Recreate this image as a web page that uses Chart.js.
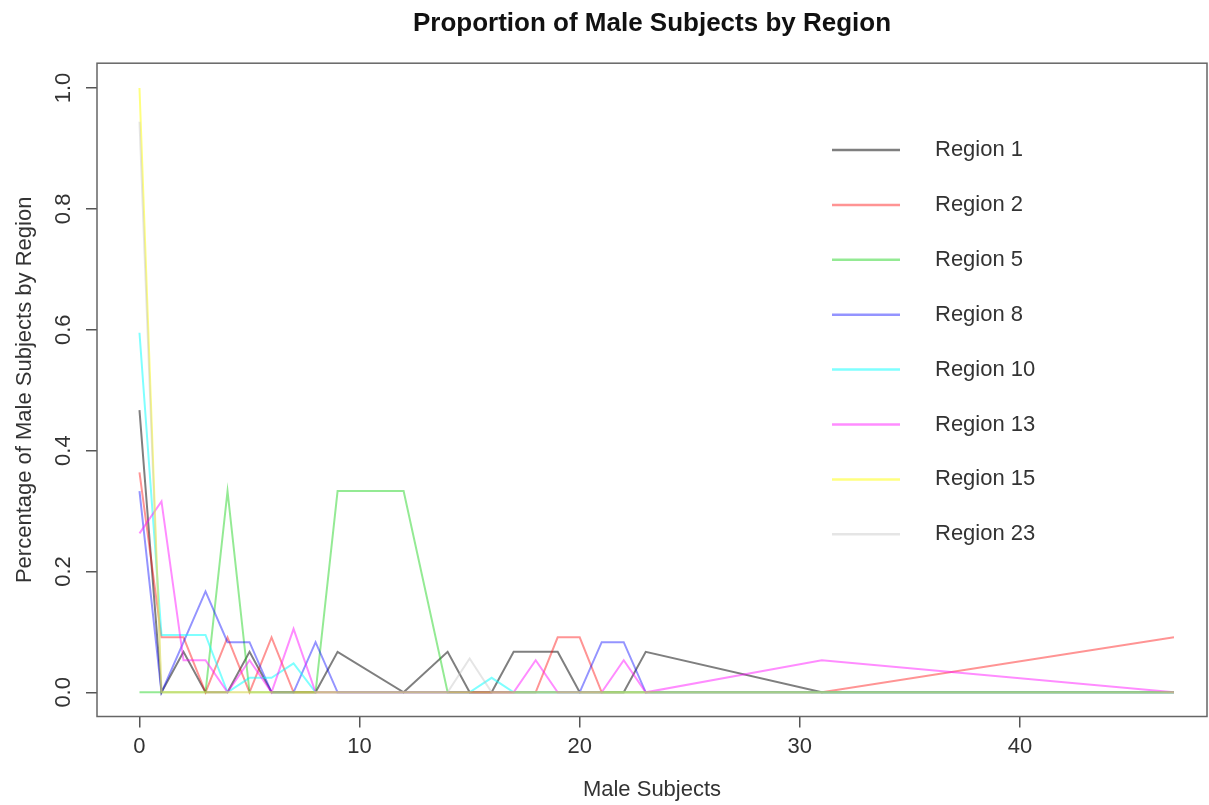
<!DOCTYPE html>
<html lang="en">
<head>
  <meta charset="UTF-8" />
  <title>Proportion of Male Subjects by Region</title>
  <script src="https://cdn.jsdelivr.net/npm/chart.js"></script>
  <style>
    html, body { margin: 0; padding: 0; background: #fff; }
    .chart-box { position: relative; width: 1209px; height: 805px; }
  </style>
</head>
<body>
  <div class="chart-box">
    <canvas id="regionChart"></canvas>
  </div>

  <script>
    // male subject counts present in the data
    const maleCounts = [0, 1, 2, 3, 4, 5, 6, 7, 8, 9, 12, 14, 15, 16, 17, 18, 19, 20, 21, 22, 23, 31, 47];

    const region1  = [0.467, 0, 0.067, 0, 0, 0.067, 0, 0, 0, 0.067, 0, 0.067, 0, 0, 0.067, 0.067, 0.067, 0, 0, 0, 0.067, 0, 0];
    const region2  = [0.364, 0.091, 0.091, 0, 0.091, 0, 0.091, 0, 0, 0, 0, 0, 0, 0, 0, 0, 0.091, 0.091, 0, 0, 0, 0, 0.091];
    const region5  = [0, 0, 0, 0, 0.333, 0, 0, 0, 0, 0.333, 0.333, 0, 0, 0, 0, 0, 0, 0, 0, 0, 0, 0, 0];
    const region8  = [0.333, 0, 0.083, 0.167, 0.083, 0.083, 0, 0, 0.083, 0, 0, 0, 0, 0, 0, 0, 0, 0, 0.083, 0.083, 0, 0, 0];
    const region10 = [0.595, 0.095, 0.095, 0.095, 0, 0.024, 0.024, 0.048, 0, 0, 0, 0, 0, 0.024, 0, 0, 0, 0, 0, 0, 0, 0, 0];
    const region13 = [0.263, 0.316, 0.053, 0.053, 0, 0.053, 0, 0.105, 0, 0, 0, 0, 0, 0, 0, 0.053, 0, 0, 0, 0.053, 0, 0.053, 0];
    const region15 = [1, 0, 0, 0, 0, 0, 0, 0, 0, 0, 0, 0, 0, 0, 0, 0, 0, 0, 0, 0, 0, 0, 0];
    const region23 = [0.944, 0, 0, 0, 0, 0, 0, 0, 0, 0, 0, 0, 0.056, 0, 0, 0, 0, 0, 0, 0, 0, 0, 0];

    const regionNames = ["Region 1", "Region 2", "Region 5", "Region 8", "Region 10", "Region 13", "Region 15", "Region 23"];
    const regionSeries = [region1, region2, region5, region8, region10, region13, region15, region23];
    const regionColors = [
      "rgba(0,0,0,0.5)", "rgba(255,0,0,0.42)", "rgba(0,205,0,0.42)", "rgba(0,0,255,0.42)",
      "rgba(0,255,255,0.5)", "rgba(255,0,255,0.45)", "rgba(255,255,0,0.5)", "rgba(190,190,190,0.4)"
    ];

    const xTicks = [0, 10, 20, 30, 40];
    const yTicks = [0, 0.2, 0.4, 0.6, 0.8, 1.0];

    const FONT = "'Liberation Sans', Arial, sans-serif";

    const datasets = regionSeries.map((vals, i) => ({
      label: regionNames[i],
      data: maleCounts.map((x, j) => ({ x: x, y: vals[j] })),
      borderColor: regionColors[i],
      borderWidth: 2,
      pointRadius: 0,
      tension: 0,
      fill: false,
      order: regionSeries.length - i
    }));

    // plot frame and legend, R style
    const framePlugin = {
      id: "frame",
      afterDraw(chart) {
        const { ctx, chartArea } = chart;
        ctx.save();
        ctx.strokeStyle = "#666";
        ctx.lineWidth = 1.5;
        ctx.strokeRect(chartArea.left, chartArea.top, chartArea.right - chartArea.left, chartArea.bottom - chartArea.top);

        ctx.font = "22px " + FONT;
        ctx.textBaseline = "middle";
        ctx.textAlign = "left";
        chart.data.datasets.forEach((ds, i) => {
          const y = 150 + i * 54.9;
          ctx.strokeStyle = ds.borderColor;
          ctx.lineWidth = 2.5;
          ctx.beginPath();
          ctx.moveTo(832, y);
          ctx.lineTo(900, y);
          ctx.stroke();
          ctx.fillStyle = "#333";
          ctx.fillText(ds.label, 935, y);
        });
        ctx.restore();
      }
    };

    const ctx = document.getElementById("regionChart").getContext("2d");
    new Chart(ctx, {
      type: "line",
      data: { datasets: datasets },
      options: {
        responsive: true,
        maintainAspectRatio: false,
        animation: false,
        layout: { padding: { top: 0, right: 2, left: 0, bottom: 0 } },
        plugins: {
          legend: { display: false },
          tooltip: { enabled: false },
          title: {
            display: true,
            fullSize: false,
            text: "Proportion of Male Subjects by Region",
            color: "#111",
            font: { family: FONT, size: 26, weight: "bold", lineHeight: 1.2 },
            padding: { top: 8, bottom: 24 }
          }
        },
        scales: {
          x: {
            type: "linear",
            min: -1.93,
            max: 48.5,
            afterBuildTicks: (s) => { s.ticks = xTicks.map(v => ({ value: v })); },
            afterFit: (s) => { s.height = 88.5; },
            border: { display: false },
            grid: { drawOnChartArea: false, drawTicks: true, tickLength: 11, color: "#555", lineWidth: 1.5 },
            ticks: {
              color: "#333",
              padding: 6,
              maxRotation: 0,
              font: { family: FONT, size: 22 },
              callback: (v) => String(v)
            },
            title: {
              display: true,
              text: "Male Subjects",
              color: "#333",
              font: { family: FONT, size: 22 },
              padding: { top: 0, bottom: 2 }
            }
          },
          y: {
            type: "linear",
            min: -0.04,
            max: 1.041,
            afterBuildTicks: (s) => { s.ticks = yTicks.map(v => ({ value: v })); },
            afterFit: (s) => { s.width = 97; },
            border: { display: false },
            grid: { drawOnChartArea: false, drawTicks: true, tickLength: 11, color: "#555", lineWidth: 1.5 },
            ticks: {
              color: "#333",
              padding: 7,
              minRotation: 90,
              maxRotation: 90,
              crossAlign: "center",
              font: { family: FONT, size: 22 },
              callback: (v) => v.toFixed(1)
            },
            title: {
              display: true,
              text: "Percentage of Male Subjects by Region",
              color: "#333",
              font: { family: FONT, size: 22 },
              padding: { top: 12, bottom: 0 }
            }
          }
        }
      },
      plugins: [framePlugin]
    });
  </script>
</body>
</html>
